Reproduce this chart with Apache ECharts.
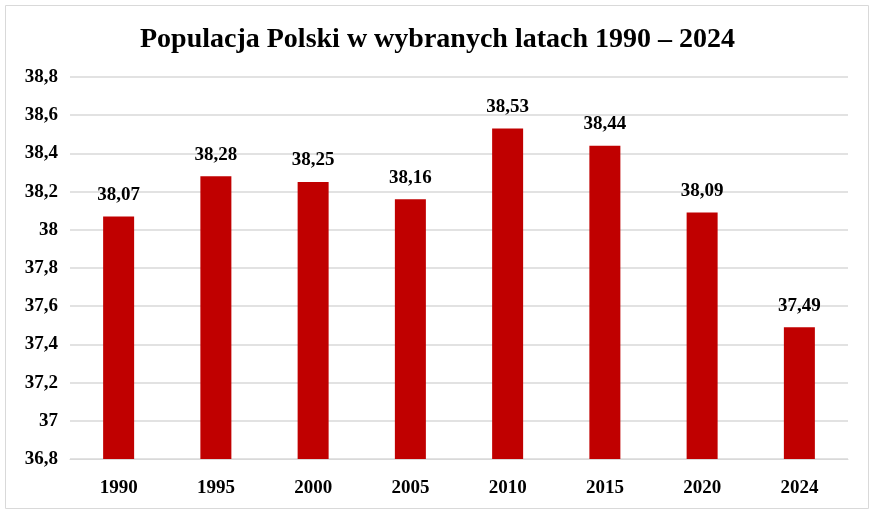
<!DOCTYPE html><html><head><meta charset="utf-8">
<script src="https://cdn.jsdelivr.net/npm/echarts@6/dist/echarts.min.js"></script>
<style>html,body{margin:0;padding:0;background:#fff}#c{width:875px;height:516px}</style></head><body>
<div id="c"></div>
<script>
const categories=['1990','1995','2000','2005','2010','2015','2020','2024'];
const values=[38.07,38.28,38.25,38.16,38.53,38.44,38.09,37.49];
const title='Populacja Polski w wybranych latach 1990 – 2024';
const fmt=v=>String(+v.toFixed(2)).replace('.',',');
const ch=echarts.init(document.getElementById('c'));
const F='Liberation Serif';
ch.setOption({
  animation:false,
  graphic:[{type:'rect',shape:{x:5.5,y:5.5,width:863,height:503},style:{fill:'none',stroke:'#d9d9d9',lineWidth:1}}],
  title:{text:title,left:'center',top:21,textStyle:{fontFamily:F,fontWeight:'bold',fontSize:28,color:'#000'}},
  grid:{left:70,right:27,top:77,bottom:57},
  xAxis:{type:'category',data:categories,axisLine:{lineStyle:{color:'#d9d9d9'}},axisTick:{show:false},
    axisLabel:{fontFamily:F,fontWeight:'bold',fontSize:19,color:'#000',margin:20}},
  yAxis:{type:'value',min:36.8,max:38.8,interval:0.2,
    axisLabel:{fontFamily:F,fontWeight:'bold',fontSize:19,color:'#000',margin:12,formatter:fmt},
    splitLine:{lineStyle:{color:'#d9d9d9',width:1.5}}},
  series:[{type:'bar',data:values,barWidth:31,itemStyle:{color:'#c00000'},
    label:{show:true,position:'top',distance:12,formatter:p=>fmt(p.value),fontFamily:F,fontWeight:'bold',fontSize:19,color:'#000'}}]
});
</script></body></html>
